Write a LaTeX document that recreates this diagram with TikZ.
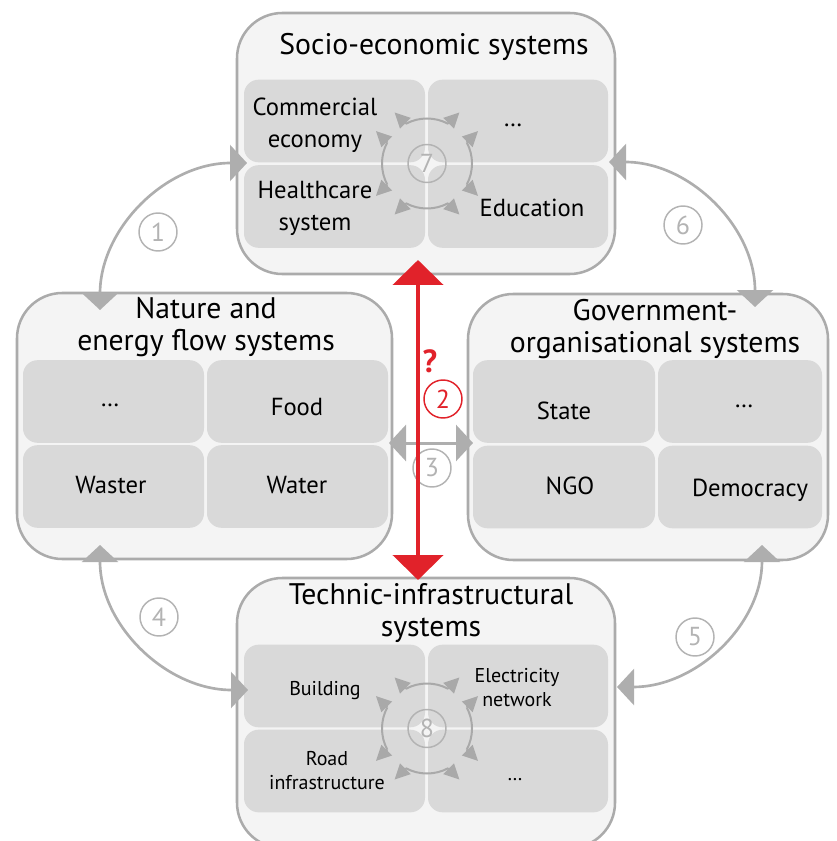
\documentclass[tikz,border=0pt]{standalone}
\usepackage{fontspec}
\setmainfont{PT Sans}
\usetikzlibrary{arrows.meta,calc}
\definecolor{boxfill}{HTML}{F4F4F4}
\definecolor{boxline}{HTML}{ABABAB}
\definecolor{cellfill}{HTML}{D9D9D9}
\definecolor{linkgrey}{HTML}{AEAEAE}
\definecolor{numgrey}{HTML}{B3B3B3}
\definecolor{cyclegrey}{HTML}{A9A9A9}
\definecolor{linkred}{HTML}{E1222A}
\newcommand\DrawCell[6][]{
  \node[cell,minimum width=#4] (#2) at (#3) {};
  \node[celltext,#1] (#2t) at (#5) {#6};
}

\begin{document}
\begin{tikzpicture}[x=0.75pt,y=-0.75pt,
  sysbox/.style={draw=boxline,fill=boxfill,line width=1.9pt,rounded corners=34pt,inner sep=0pt},
  cell/.style={fill=cellfill,rounded corners=11pt,minimum height=62pt,inner sep=0pt},
  celltext/.style={inner sep=0pt,align=center,font=\fontsize{18.5}{24}\selectfont},
  title/.style={inner sep=0pt,align=center,font=\fontsize{22.3}{24}\selectfont},
  link/.style={draw=linkgrey,line width=2pt,{Triangle[length=12.75pt,width=27pt]}-{Triangle[length=12.75pt,width=27pt]}},
  redlink/.style={draw=linkred,line width=3.5pt,{Triangle[length=18.75pt,width=37.5pt]}-{Triangle[length=18.75pt,width=37.5pt]}},
  numcircle/.style={circle,draw=numgrey,line width=1.1pt,minimum size=28.5pt,inner sep=0pt,text=numgrey,font=\fontsize{19.5}{19.5}\selectfont},
  cyclearc/.style={draw=cyclegrey,line width=1.5pt},
  cyclehead/.style={cyclearc,-{Triangle[length=11.5pt,width=11pt]}}]

	\useasboundingbox (0,0) rectangle (836,841);

	% the four systems
	\node[sysbox,minimum width=283.5pt,minimum height=195.75pt] (socio) at (426,143.5) {};
	\node[sysbox,minimum width=281.25pt,minimum height=199.5pt] (nature) at (204.5,426) {};
	\node[sysbox,minimum width=270pt,minimum height=199.5pt] (govern) at (648,427) {};
	\node[sysbox,minimum width=283.5pt,minimum height=202.5pt] (technic) at (426,713) {};

	\node[title,anchor=base] (sociot) at (434,55) {Socio-economic systems};
	\node[title] (naturet) at (206,327) {Nature and\\energy flow systems};
	\node[title] (governt) at (655,329) {Government-\\organisational systems};
	\node[title] (technict) at (431,613) {Technic-infrastructural\\systems};

	% the subsystems
	\DrawCell{soc1}{334.5,121}{135.75pt}{315,124.75}{Commercial\\economy}
	\DrawCell[anchor=base]{soc2}{518,121}{135pt}{513,127}{…}
	\DrawCell{soc3}{334.5,206.5}{135.75pt}{315,208.75}{Healthcare\\system}
	\DrawCell[anchor=base]{soc4}{518,206.5}{135pt}{532,217}{Education}

	\DrawCell[anchor=base]{nat1}{113.5,401.5}{135.75pt}{110,406}{…}
	\DrawCell[anchor=base]{nat2}{297.5,401.5}{135.75pt}{297,415}{Food}
	\DrawCell[anchor=base]{nat3}{113.5,486.5}{135.75pt}{111,493}{Waster}
	\DrawCell[anchor=base]{nat4}{297.5,486.5}{135.75pt}{297,493}{Water}

	\DrawCell[anchor=base]{gov1}{564,401.5}{136.5pt}{564,419}{State}
	\DrawCell[anchor=base]{gov2}{740,401.5}{123pt}{744,407}{…}
	\DrawCell[anchor=base]{gov3}{564,487}{136.5pt}{570,494}{NGO}
	\DrawCell[anchor=base]{gov4}{740,487}{123pt}{750,496}{Democracy}

	\begin{scope}[celltext/.append style={font=\fontsize{15}{18}\selectfont}]
	\DrawCell[anchor=base]{tec1}{334.5,686}{135.75pt}{325,695}{Building}
	\DrawCell{tec2}{518,686}{135pt}{517,688}{Electricity\\network}
	\DrawCell{tec3}{334.5,771}{135.75pt}{327,771}{Road\\infrastructure}
	\DrawCell[anchor=base]{tec4}{518,771}{135pt}{515,780}{…}
	\end{scope}

	% interactions inside a system
	\node[numcircle] (n7) at (427,163.5) {7};
	\node[numcircle] (n8) at (427,728.5) {8};
	\foreach \Hub in {n7,n8}{
	  \foreach \Ang in {0,90,180,270}
	    \draw[cyclearc] (\Hub.center) ++(\Ang-28:45) arc[start angle=\Ang-28,end angle=\Ang+28,radius=45];
	  \foreach \Ang in {45,135,225,315}{
	    \draw[cyclehead] (\Hub.center) ++(\Ang-17:45) -- ++(\Ang:16);
	    \draw[cyclehead] (\Hub.center) ++(\Ang+17:45) -- ++(\Ang:16);
	  }
	}

	% connector ends
	\coordinate (a1s) at (100,310);
	\coordinate (a1e) at (247,163);
	\coordinate (a6s) at (609,162);
	\coordinate (a6e) at (755,307);
	\coordinate (a4s) at (100,545);
	\coordinate (a4e) at (248,690);
	\coordinate (a5s) at (762,545);
	\coordinate (a5e) at (617,687);
	\coordinate (a3s) at (389,443);
	\coordinate (a3e) at (473,443);
	\coordinate (a2s) at (418,260);
	\coordinate (a2e) at (418,580);

	% links between the systems
	\draw[link] (a1s) to[out=90,in=180] (a1e);
	\draw[link] (a6s) to[out=0,in=90] (a6e);
	\draw[link] (a4s) to[out=-90,in=180] (a4e);
	\draw[link] (a5s) to[out=-90,in=0] (a5e);
	\draw[link,line width=2.25pt] (a3s) -- (a3e);

	\foreach \Num/\X/\Y in {1/158/232,3/432/468,4/159/617,5/695/637,6/683/225}
	  \node[numcircle] (n\Num) at (\X,\Y) {\Num};

	% the open question
	\draw[redlink] (a2s) -- (a2e);
	\node[numcircle,draw=linkred,text=linkred] (n2) at (443,399) {2};
	\node[anchor=base,inner sep=0pt,text=linkred,font=\bfseries\fontsize{24}{24}\selectfont] (ask) at (430,372) {?};
\end{tikzpicture}
\end{document}
